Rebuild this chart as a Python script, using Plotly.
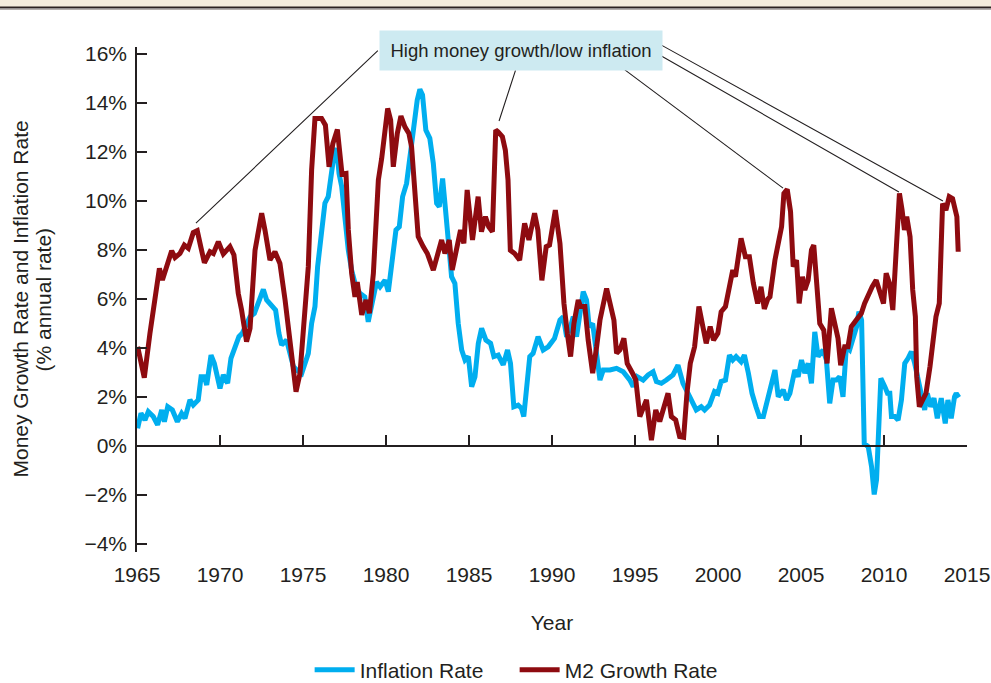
import plotly.graph_objects as go

# ---------------- data ----------------
m2_years = [1965.04, 1965.44, 1965.78, 1965.98, 1966.08, 1966.35, 1966.53, 1966.79, 1967.09, 1967.29,
            1967.59, 1967.85, 1968.09, 1968.39, 1968.63, 1968.84, 1969.06, 1969.4, 1969.6, 1969.9,
            1970.2, 1970.6, 1970.84, 1971.1, 1971.3, 1971.6, 1971.81, 1972.11, 1972.51, 1972.71,
            1973.01, 1973.31, 1973.61, 1973.92, 1974.22, 1974.58, 1974.82, 1975.12, 1975.32, 1975.52,
            1975.72, 1976.12, 1976.35, 1976.57, 1976.8, 1977.07, 1977.35, 1977.59, 1977.73, 1977.93,
            1978.13, 1978.27, 1978.54, 1978.8, 1979.0, 1979.24, 1979.54, 1979.74, 1979.94, 1980.1,
            1980.28, 1980.44, 1980.68, 1980.9, 1981.14, 1981.38, 1981.54, 1981.74, 1981.94, 1982.24,
            1982.49, 1982.85, 1983.09, 1983.35, 1983.55, 1983.81, 1983.99, 1984.25, 1984.49, 1984.69,
            1984.89, 1985.21, 1985.55, 1985.75, 1985.99, 1986.19, 1986.41, 1986.61, 1986.75, 1987.01,
            1987.19, 1987.35, 1987.49, 1987.75, 1988.05, 1988.35, 1988.61, 1988.95, 1989.15, 1989.39,
            1989.65, 1989.85, 1990.2, 1990.48, 1990.72, 1990.92, 1991.12, 1991.32, 1991.58, 1991.72,
            1991.98, 1992.18, 1992.45, 1992.69, 1992.89, 1993.29, 1993.53, 1993.73, 1993.89, 1994.09,
            1994.33, 1994.53, 1994.85, 1995.05, 1995.29, 1995.69, 1995.99, 1996.25, 1996.49, 1996.73,
            1996.99, 1997.19, 1997.45, 1997.69, 1997.93, 1998.13, 1998.33, 1998.59, 1998.85, 1999.09,
            1999.29, 1999.53, 1999.73, 1999.99, 2000.19, 2000.45, 2000.69, 2000.89, 2001.05, 2001.19,
            2001.39, 2001.65, 2001.89, 2002.13, 2002.39, 2002.59, 2002.79, 2003.0, 2003.13, 2003.43,
            2003.69, 2003.83, 2003.97, 2004.17, 2004.37, 2004.53, 2004.73, 2004.89, 2005.09, 2005.23,
            2005.43, 2005.63, 2005.77, 2005.97, 2006.13, 2006.37, 2006.57, 2006.83, 2007.03, 2007.23,
            2007.39, 2007.63, 2007.83, 2008.03, 2008.33, 2008.63, 2008.83, 2009.09, 2009.29, 2009.53,
            2009.73, 2009.97, 2010.13, 2010.33, 2010.53, 2010.69, 2010.83, 2010.93, 2011.09, 2011.23,
            2011.37, 2011.57, 2011.73, 2011.89, 2011.97, 2012.13, 2012.33, 2012.53, 2012.77, 2012.97,
            2013.13, 2013.33, 2013.43, 2013.53, 2013.73, 2013.93, 2014.13, 2014.39, 2014.47]
m2_values = [4.05, 2.79, 4.6, 5.55, 6.23, 7.25, 6.78, 7.3, 7.97, 7.69,
             7.86, 8.2, 8.07, 8.71, 8.79, 8.14, 7.48, 7.93, 7.86, 8.34,
             7.84, 8.14, 7.8, 6.23, 5.55, 4.26, 4.8, 7.99, 9.5, 8.81,
             7.59, 7.93, 7.45, 5.96, 4.19, 2.22, 2.96, 5.69, 7.32, 11.27,
             13.37, 13.37, 13.1, 11.4, 12.35, 12.92, 11.1, 11.13, 8.82, 7.05,
             6.09, 6.69, 5.35, 5.96, 5.42, 7.05, 10.86, 11.74, 13.03, 13.78,
             13.3, 11.4, 12.76, 13.47, 13.03, 12.76, 12.22, 10.18, 8.55, 8.14,
             7.86, 7.18, 7.73, 8.41, 7.86, 8.41, 7.18, 7.99, 8.82, 8.27,
             10.45, 8.41, 10.18, 8.75, 9.36, 8.95, 8.75, 12.9, 12.83, 12.63,
             12.08, 10.86, 7.99, 7.86, 7.59, 9.09, 8.41, 9.5, 8.82, 6.76,
             8.14, 8.2, 9.63, 8.27, 5.82, 4.6, 3.65, 5.0, 5.96, 5.69,
             5.69, 4.32, 2.97, 4.05, 5.14, 6.43, 5.82, 5.14, 3.78, 3.92,
             4.39, 3.37, 2.97, 2.69, 1.2, 1.88, 0.24, 1.47, 1.0, 1.6,
             2.15, 1.2, 1.06, 0.38, 0.35, 2.15, 3.37, 4.05, 5.69, 4.87,
             4.19, 4.87, 4.32, 4.6, 5.48, 5.69, 6.64, 7.18, 6.91, 7.73,
             8.48, 7.73, 7.73, 6.64, 5.82, 6.5, 5.6, 6.0, 6.09, 7.59,
             8.41, 8.95, 10.31, 10.48, 9.57, 7.32, 7.59, 5.82, 6.91, 6.37,
             6.77, 8.0, 8.2, 6.23, 5.0, 4.73, 3.37, 5.62, 4.87, 4.39,
             3.3, 4.05, 4.05, 4.87, 5.14, 5.41, 5.82, 6.23, 6.5, 6.77,
             6.37, 5.82, 7.05, 6.64, 5.55, 7.46, 8.54, 10.31, 9.63, 8.82,
             9.36, 8.54, 6.37, 5.28, 2.83, 1.6, 1.88, 2.15, 3.24, 4.19,
             5.28, 5.82, 8.0, 9.9, 9.63, 10.18, 10.1, 9.36, 7.93]

infl_years = [1965.04, 1965.24, 1965.48, 1965.68, 1965.98, 1966.24, 1966.49, 1966.65, 1966.85, 1967.13,
              1967.43, 1967.69, 1967.89, 1968.19, 1968.39, 1968.69, 1968.86, 1969.06, 1969.2, 1969.46,
              1969.66, 1969.86, 1970.0, 1970.2, 1970.46, 1970.66, 1970.9, 1971.14, 1971.34, 1971.6,
              1971.81, 1972.07, 1972.31, 1972.61, 1972.81, 1973.11, 1973.35, 1973.55, 1973.71, 1974.01,
              1974.22, 1974.42, 1974.62, 1974.92, 1975.12, 1975.32, 1975.52, 1975.72, 1975.88, 1976.12,
              1976.32, 1976.52, 1976.72, 1976.88, 1977.03, 1977.17, 1977.33, 1977.53, 1977.73, 1977.93,
              1978.19, 1978.43, 1978.72, 1978.93, 1979.13, 1979.43, 1979.64, 1979.94, 1980.14, 1980.34,
              1980.6, 1980.8, 1981.0, 1981.24, 1981.44, 1981.68, 1981.88, 1982.04, 1982.2, 1982.4,
              1982.64, 1982.85, 1983.05, 1983.21, 1983.41, 1983.55, 1983.75, 1983.95, 1984.15, 1984.35,
              1984.56, 1984.76, 1984.96, 1985.16, 1985.36, 1985.56, 1985.76, 1986.02, 1986.3, 1986.5,
              1986.76, 1987.06, 1987.32, 1987.5, 1987.7, 1987.96, 1988.16, 1988.3, 1988.46, 1988.66,
              1988.86, 1989.16, 1989.47, 1989.77, 1990.15, 1990.48, 1990.68, 1990.88, 1991.12, 1991.28,
              1991.48, 1991.68, 1991.88, 1992.08, 1992.24, 1992.45, 1992.65, 1992.89, 1993.09, 1993.49,
              1993.89, 1994.29, 1994.69, 1994.89, 1995.13, 1995.49, 1995.79, 1996.09, 1996.29, 1996.59,
              1996.89, 1997.29, 1997.59, 1997.89, 1998.09, 1998.39, 1998.69, 1998.99, 1999.19, 1999.49,
              1999.79, 1999.99, 2000.19, 2000.45, 2000.69, 2000.89, 2001.09, 2001.39, 2001.59, 2001.83,
              2002.05, 2002.29, 2002.49, 2002.73, 2002.93, 2003.23, 2003.43, 2003.63, 2003.93, 2004.13,
              2004.33, 2004.63, 2004.83, 2005.03, 2005.23, 2005.43, 2005.63, 2005.83, 2006.03, 2006.33,
              2006.53, 2006.73, 2006.93, 2007.13, 2007.33, 2007.53, 2007.73, 2007.93, 2008.13, 2008.35,
              2008.49, 2008.65, 2008.81, 2009.05, 2009.25, 2009.41, 2009.55, 2009.81, 2010.05, 2010.21,
              2010.35, 2010.45, 2010.65, 2010.85, 2011.05, 2011.25, 2011.45, 2011.65, 2011.85, 2012.05,
              2012.25, 2012.45, 2012.61, 2012.81, 2013.01, 2013.21, 2013.45, 2013.69, 2013.85, 2014.05,
              2014.25, 2014.35, 2014.51]
infl_values = [0.72, 1.33, 1.06, 1.4, 1.2, 0.86, 1.47, 0.99, 1.6, 1.47,
               0.99, 1.33, 1.13, 1.88, 1.67, 1.88, 2.83, 2.83, 2.49, 3.71,
               3.37, 2.63, 2.35, 2.9, 2.56, 3.58, 3.99, 4.46, 4.6, 4.94,
               5.28, 5.41, 5.89, 6.39, 5.96, 5.69, 5.55, 4.6, 4.12, 4.32,
               3.78, 3.24, 3.1, 2.96, 3.37, 3.78, 5.01, 5.69, 7.32, 8.82,
               9.91, 10.18, 11.0, 11.95, 12.15, 11.13, 10.59, 9.23, 7.99, 7.18,
               6.5, 6.23, 6.09, 5.07, 5.82, 6.69, 6.5, 6.77, 6.3, 7.32,
               8.82, 8.95, 10.18, 10.72, 11.81, 12.9, 14.12, 14.56, 14.33, 12.9,
               12.56, 11.54, 9.91, 9.77, 10.92, 9.91, 8.41, 6.91, 6.64, 5.01,
               3.92, 3.51, 3.65, 2.42, 2.83, 4.19, 4.8, 4.32, 4.19, 3.65,
               3.71, 3.31, 3.92, 3.37, 1.6, 1.67, 1.54, 1.2, 2.29, 3.65,
               3.78, 4.46, 3.92, 4.05, 4.39, 5.14, 5.28, 4.46, 4.87, 5.28,
               4.46, 5.28, 6.3, 5.96, 4.87, 5.0, 3.78, 2.69, 3.1, 3.1,
               3.17, 3.03, 2.69, 2.42, 2.83, 2.69, 2.9, 3.03, 2.63, 2.56,
               2.69, 2.9, 3.3, 2.56, 2.29, 1.88, 1.47, 1.6, 1.47, 1.67,
               2.22, 2.15, 2.63, 2.69, 3.71, 3.51, 3.65, 3.44, 3.71, 2.97,
               2.15, 1.6, 1.2, 1.2, 1.74, 2.56, 3.1, 2.01, 2.29, 1.88,
               2.15, 3.1, 2.83, 3.51, 2.97, 3.37, 2.56, 4.66, 3.65, 3.92,
               3.51, 1.74, 2.69, 2.69, 2.83, 2.01, 4.05, 3.92, 4.32, 4.87,
               5.48, 5.14, 0.1, -0.03, -0.84, -1.98, -1.38, 2.76, 2.42, 2.15,
               2.15, 1.2, 1.2, 1.06, 1.88, 3.37, 3.58, 3.85, 3.37, 2.69,
               2.01, 1.47, 2.15, 1.6, 1.95, 1.13, 1.95, 0.92, 1.88, 1.13,
               2.01, 2.15, 1.98]

y_tick_vals = [-4, -2, 0, 2, 4, 6, 8, 10, 12, 14, 16]
y_tick_text = ["\u22124%", "\u22122%", "0%", "2%", "4%", "6%", "8%", "10%", "12%", "14%", "16%"]
x_tick_vals = [1965, 1970, 1975, 1980, 1985, 1990, 1995, 2000, 2005, 2010, 2015]

y_title_lines = ["Money Growth Rate and Inflation Rate", "(% annual rate)"]
x_title = "Year"

callout_text = "High money growth/low inflation"
# peaks pointed at (year, value) and the box-side end of each leader line
callout_years = [1968.55, 1986.81, 2003.92, 2010.9, 2013.55]
callout_values = [9.1, 13.27, 10.53, 10.37, 10.0]
callout_tail_years = [1979.6, 1987.83, 1994.3, 1996.5, 1996.5]
callout_tail_values = [16.2, 15.4, 15.4, 15.96, 16.4]

# ---------------- styling ----------------
FONT = "Liberation Sans, Arial, Helvetica, sans-serif"
INK = "#231f20"
BLUE = "#00aeef"
RED = "#8e0b10"
W, H = 991, 683
ML, MR, MT, MB = 137, 24, 47, 131
Y_RANGE = [-4.33, 16.29]
FS = 21
plot_h = H - MT - MB
plot_w = W - ML - MR

fig = go.Figure()
fig.add_trace(go.Scatter(x=infl_years, y=infl_values, mode="lines", name="Inflation Rate",
                         line=dict(color=BLUE, width=5)))
fig.add_trace(go.Scatter(x=m2_years, y=m2_values, mode="lines", name="M2 Growth Rate",
                         line=dict(color=RED, width=5)))
# empty trace so the zero-line axis is rendered
fig.add_trace(go.Scatter(x=[], y=[], xaxis="x2", showlegend=False, hoverinfo="skip"))

zero_pos = (0 - Y_RANGE[0]) / (Y_RANGE[1] - Y_RANGE[0])

annotations = []
for xe, ye, xt, yt in zip(callout_years, callout_values, callout_tail_years, callout_tail_values):
    annotations.append(dict(x=xe, y=ye, xref="x", yref="y", ax=xt, ay=yt, axref="x", ayref="y",
                            text="", showarrow=True, arrowhead=0, arrowwidth=1.1,
                            arrowcolor=INK, standoff=0, startstandoff=0))
annotations.append(dict(x=1988.13, y=16.14, xref="x", yref="y", text=callout_text, showarrow=False,
                        font=dict(family=FONT, size=18.5, color=INK), bgcolor="#cdeaf1",
                        width=280, height=37, borderpad=1, xanchor="center", yanchor="middle"))
# rotated two-line y-axis title (tighter line spacing than a <br> title)
for px_x, line in zip([20, 43], y_title_lines):
    annotations.append(dict(x=(px_x - ML) / plot_w, y=0.5, xref="paper", yref="paper",
                            text=line, textangle=-90, showarrow=False,
                            xanchor="center", yanchor="middle",
                            font=dict(family=FONT, size=FS, color=INK)))

shapes = [
    dict(type="rect", xref="paper", yref="paper", x0=-ML / plot_w, x1=(W - ML) / plot_w,
         y0=(plot_h + MT - 7) / plot_h, y1=(plot_h + MT) / plot_h,
         fillcolor="#f4ecdc", line=dict(width=0), layer="below"),
    dict(type="line", xref="paper", yref="paper", x0=-ML / plot_w, x1=(W - ML) / plot_w,
         y0=(plot_h + MT - 7.5) / plot_h, y1=(plot_h + MT - 7.5) / plot_h,
         line=dict(color="#2b2220", width=2)),
    dict(type="line", xref="paper", yref="paper", x0=-ML / plot_w, x1=(W - ML) / plot_w,
         y0=(plot_h + MT - 9.5) / plot_h, y1=(plot_h + MT - 9.5) / plot_h,
         line=dict(color="#b5b0ad", width=1)),
]

fig.update_layout(
    width=W, height=H,
    margin=dict(l=ML, r=MR, t=MT, b=MB, autoexpand=False),
    paper_bgcolor="white", plot_bgcolor="white",
    font=dict(family=FONT, size=FS, color=INK),
    showlegend=True,
    legend=dict(orientation="h", x=0.208, xanchor="left", y=-0.234, yanchor="middle",
                font=dict(family=FONT, size=FS, color=INK), bgcolor="rgba(0,0,0,0)",
                itemwidth=40, entrywidth=150),
    xaxis=dict(range=[1965, 2015], tickvals=x_tick_vals, showline=False, ticks="",
               showgrid=False, zeroline=False, tickfont=dict(size=FS, color=INK),
               ticklabelstandoff=8, automargin=False,
               title=dict(text=x_title, font=dict(size=FS, color=INK), standoff=30)),
    xaxis2=dict(range=[1965, 2015], overlaying="x", anchor="free", position=zero_pos,
                side="bottom", tickvals=x_tick_vals, showticklabels=False, ticks="inside",
                ticklen=10, tickwidth=1.5, tickcolor=INK, showline=True, linecolor=INK,
                linewidth=1.5, showgrid=False, zeroline=False, matches="x", automargin=False),
    yaxis=dict(range=Y_RANGE, tickvals=y_tick_vals, ticktext=y_tick_text, ticks="inside",
               ticklen=10, tickwidth=1.5, tickcolor=INK, showline=True, linecolor=INK,
               linewidth=1.5, showgrid=False, zeroline=False, tickfont=dict(size=FS, color=INK),
               ticklabelstandoff=4, automargin=False),
    annotations=annotations,
    shapes=shapes,
)

fig.write_html("out.html", config={"displayModeBar": False},
               post_script="document.body.style.margin='0';document.body.style.overflow='hidden';")
